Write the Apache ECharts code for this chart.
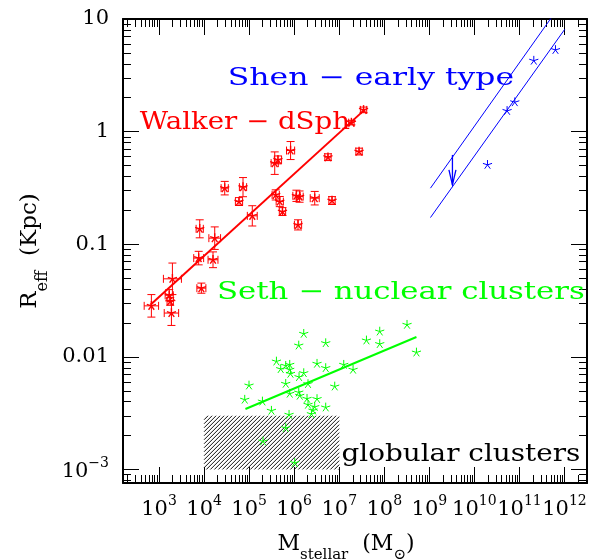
<!DOCTYPE html>
<html>
<head>
<meta charset="utf-8">
<script src="https://cdn.jsdelivr.net/npm/echarts@6/dist/echarts.min.js"></script>
<style>
  html, body { margin: 0; padding: 0; background: #fff; }
  #chart { width: 604px; height: 559px; }
</style>
</head>
<body>
<div id="chart"></div>
<script>
// All quantities are stored as log10: stellar mass in Msun, effective radius in kpc.

// Walker: dwarf spheroidals, with errors in dex
const walkerLogM = [2.83, 3.226, 3.297, 3.275, 3.248, 3.94, 3.88, 4.198, 4.236, 3.903,
  5.07, 4.458, 4.775, 4.864, 5.59, 5.68, 5.74, 6.085, 6.05, 6.12,
  6.456, 6.84, 5.568, 5.64, 5.92, 6.75, 7.44, 7.27, 7.54];
const walkerLogR = [-1.547, -1.453, -1.307, -1.611, -1.507, -1.39, -1.123, -1.138, -0.946, -0.863,
  -0.748, -0.502, -0.621, -0.493, -0.562, -0.621, -0.71, -0.828, -0.57, -0.577,
  -0.591, -0.612, -0.28, -0.251, -0.168, -0.227, -0.177, 0.08, 0.193];
const walkerErrM = [0.16, 0.09, 0.2, 0.16, 0.07, 0.1, 0.11, 0.11, 0.13, 0.08,
  0.11, 0.08, 0.08, 0.08, 0.08, 0.08, 0.07, 0.08, 0.08, 0.08,
  0.1, 0.07, 0.08, 0.08, 0.09, 0.07, 0.07, 0.06, 0.07];
const walkerErrR = [0.1, 0.05, 0.14, 0.11, 0.035, 0.045, 0.06, 0.07, 0.1, 0.08,
  0.09, 0.06, 0.035, 0.085, 0.045, 0.045, 0.035, 0.045, 0.05, 0.05,
  0.06, 0.035, 0.1, 0.035, 0.08, 0.03, 0.03, 0.02, 0.025];
const walkerFitLogM = [2.81, 7.56];
const walkerFitLogR = [-1.537, 0.193];

// Seth: nuclear star clusters
const sethLogM = [6.212, 6.101, 6.7, 7.604, 7.899, 7.899, 8.505, 8.714, 5.606, 5.701,
  5.812, 5.901, 5.901, 5.917, 6.212, 6.108, 6.507, 6.7, 7.1, 7.307,
  5.812, 6.307, 6.9, 4.997, 4.902, 5.295, 5.901, 6.101, 6.123, 6.285,
  6.507, 6.307, 6.456, 6.7, 6.418, 6.383, 5.495, 5.886, 5.812, 5.308, 6.012];
const sethLogR = [-1.795, -1.899, -1.878, -1.854, -1.775, -1.886, -1.715, -1.961, -2.041, -2.108,
  -2.079, -2.07, -2.114, -2.15, -2.144, -2.179, -2.061, -2.099, -2.07, -2.114,
  -2.239, -2.241, -2.263, -2.254, -2.38, -2.396, -2.327, -2.316, -2.345, -2.372,
  -2.374, -2.425, -2.445, -2.449, -2.476, -2.508, -2.478, -2.514, -2.632, -2.751, -2.942];
const sethFitLogM = [4.918, 8.714];
const sethFitLogR = [-2.463, -1.824];

// Shen: early-type galaxies
const shenLogM = [11.319, 11.8, 10.897, 10.726, 10.291];
const shenLogR = [0.63, 0.725, 0.261, 0.184, -0.295];
const shenUpperLogM = [9.025, 12.0];
const shenUpperLogR = [-0.502, 1.176];
const shenLowerLogM = [9.025, 12.007];
const shenLowerLogR = [-0.763, 0.909];
const shenArrowLogM = [9.513];
const shenArrowLogR = [-0.207, -0.473];

// Globular cluster region
const gcBoxLogM = [4, 7];
const gcBoxLogR = [-3, Math.log10(0.003)];

// Annotations (left end, baseline)
const noteText = ['Walker \u2212 dSph', 'Shen \u2212 early type', 'Seth \u2212 nuclear clusters', 'globular clusters'];
const noteColor = ['#ff0000', '#0000ff', '#00ff00', '#000000'];
const noteLogM = [2.571, 4.525, 4.287, 7.049];
const noteLogR = [0.0, 0.397, -1.508, -2.942];
// horizontal stretch of each annotation's lettering
const noteStretch = [1.15, 1.31, 1.28, 1.16];

// Axes
const X_MIN = 2.2, X_MAX = 12.5;
const Y_MIN = -3.12, Y_MAX = 1;
const xMajor = [3, 4, 5, 6, 7, 8, 9, 10, 11, 12];
const yMajor = [1, 0, -1, -2, -3];
const yMajorText = ['10', '1', '0.1', '0.01', '{b|10}{s|\u22123}'];

function minorTicks(lo, hi) {
  const out = [];
  for (let d = Math.floor(lo); d <= Math.ceil(hi); d++) {
    for (let k = 2; k <= 9; k++) {
      const v = d + Math.log10(k);
      if (v > lo && v < hi) out.push(v);
    }
  }
  return out;
}
const xMinor = minorTicks(X_MIN, X_MAX);
const yMinor = minorTicks(Y_MIN, Y_MAX);

const SERIF = '"DejaVu Serif", serif';
const tickLine = { color: '#000', width: 1 };

function axisSet(dim, position, major, minor, labelCfg) {
  const lo = dim === 'x' ? X_MIN : Y_MIN;
  const hi = dim === 'x' ? X_MAX : Y_MAX;
  const base = {
    type: 'value', position: position, min: lo, max: hi,
    splitLine: { show: false }
  };
  return [
    Object.assign({}, base, {
      axisLine: { show: true, onZero: false, lineStyle: { color: '#000', width: 2 } },
      axisTick: { show: true, inside: true, length: 16, customValues: major, lineStyle: tickLine },
      axisLabel: labelCfg || { show: false }
    }),
    Object.assign({}, base, {
      axisLine: { show: false, onZero: false },
      axisTick: { show: true, inside: true, length: 8, customValues: minor, lineStyle: tickLine },
      axisLabel: { show: false }
    })
  ];
}

const supRich = {
  b: { fontFamily: SERIF, fontSize: 21, color: '#000', verticalAlign: 'bottom', lineHeight: 26 },
  s: { fontFamily: SERIF, fontSize: 14, color: '#000', verticalAlign: 'top', lineHeight: 26 }
};

const xLabel = {
  show: true, customValues: xMajor, margin: 11,
  formatter: v => '{b|10}{s|' + Math.round(v) + '}',
  rich: supRich
};
const yLabel = {
  show: true, customValues: yMajor, margin: 14,
  fontFamily: SERIF, fontSize: 21, color: '#000',
  formatter: v => yMajorText[yMajor.indexOf(Math.round(v))],
  rich: supRich
};

const xAxes = axisSet('x', 'bottom', xMajor, xMinor, xLabel).concat(axisSet('x', 'top', xMajor, xMinor));
const yAxes = axisSet('y', 'left', yMajor, yMinor, yLabel).concat(axisSet('y', 'right', yMajor, yMinor));

const titleRich = {
  m: { fontFamily: SERIF, fontSize: 22, color: '#000', verticalAlign: 'top', lineHeight: 30 },
  sub: { fontFamily: SERIF, fontSize: 15, color: '#000', verticalAlign: 'bottom', lineHeight: 30 }
};
xAxes[0].name = '{m|M}{sub|stellar}{m|  (M}{sub|\u2299}{m|)}';
xAxes[0].nameLocation = 'middle';
xAxes[0].nameGap = 50;
xAxes[0].nameTextStyle = { rich: titleRich, padding: [0, 18, 0, 0] };
yAxes[0].name = '{m|R}{sub|eff}{m|  (Kpc)}';
yAxes[0].nameLocation = 'middle';
yAxes[0].nameGap = 64;
yAxes[0].nameTextStyle = {
  rich: {
    m: { fontFamily: SERIF, fontSize: 23, color: '#000', verticalAlign: 'top', lineHeight: 32 },
    sub: { fontFamily: SERIF, fontSize: 16, color: '#000', verticalAlign: 'bottom', lineHeight: 32 }
  }
};

// Shape helpers
function seg(x1, y1, x2, y2, color, w) {
  return { type: 'line', shape: { x1, y1, x2, y2 }, style: { stroke: color, lineWidth: w || 1 } };
}
function star(cx, cy, r, color, w) {
  const out = [];
  for (let i = 0; i < 5; i++) {
    const a = i * 2 * Math.PI / 5;
    out.push(seg(cx, cy, cx + r * Math.sin(a), cy - r * Math.cos(a), color, w || 1));
  }
  return out;
}
function starSeries(xs, ys, color) {
  return {
    type: 'custom', coordinateSystem: 'cartesian2d', silent: true,
    data: xs.map((x, i) => [x, ys[i]]),
    encode: { x: 0, y: 1 },
    renderItem: (params, api) => {
      const c = api.coord([api.value(0), api.value(1)]);
      return { type: 'group', children: star(c[0], c[1], 4.8, color) };
    }
  };
}
function fitLine(xs, ys, color, w) {
  return {
    type: 'line', silent: true, symbol: 'none', clip: true,
    data: xs.map((x, i) => [x, ys[i]]),
    lineStyle: { color: color, width: w }
  };
}

const RED = '#ff0000', GREEN = '#00ff00', BLUE = '#0000ff';

const series = [
  // hatched globular cluster region
  {
    type: 'custom', coordinateSystem: 'cartesian2d', silent: true,
    data: [[gcBoxLogM[0], gcBoxLogR[0], gcBoxLogM[1], gcBoxLogR[1]]],
    encode: { x: [0, 2], y: [1, 3] },
    renderItem: (params, api) => {
      const p0 = api.coord([api.value(0), api.value(3)]);
      const p1 = api.coord([api.value(2), api.value(1)]);
      const x0 = p0[0], y0 = p0[1], x1 = p1[0], y1 = p1[1];
      const kids = [];
      const step = 4;
      for (let c = x0 + y0 + step; c < x1 + y1; c += step) {
        const xa = Math.max(x0, c - y1), xb = Math.min(x1, c - y0);
        if (xb > xa) kids.push(seg(xa, c - xa, xb, c - xb, '#111', 1));
      }
      return { type: 'group', children: kids };
    }
  },
  fitLine(walkerFitLogM, walkerFitLogR, RED, 2),
  fitLine(sethFitLogM, sethFitLogR, GREEN, 2),
  fitLine(shenUpperLogM, shenUpperLogR, BLUE, 1),
  fitLine(shenLowerLogM, shenLowerLogR, BLUE, 1),
  // Walker points with error bars
  {
    type: 'custom', coordinateSystem: 'cartesian2d', silent: true,
    data: walkerLogM.map((m, i) => [m, walkerLogR[i], walkerErrM[i], walkerErrR[i]]),
    encode: { x: 0, y: 1 },
    renderItem: (params, api) => {
      const m = api.value(0), r = api.value(1), em = api.value(2), er = api.value(3);
      const c = api.coord([m, r]);
      const xl = api.coord([m - em, r])[0], xr = api.coord([m + em, r])[0];
      const yt = api.coord([m, r + er])[1], yb = api.coord([m, r - er])[1];
      const cap = 4;
      const kids = [
        seg(xl, c[1], xr, c[1], RED),
        seg(xl, c[1] - cap, xl, c[1] + cap, RED),
        seg(xr, c[1] - cap, xr, c[1] + cap, RED),
        seg(c[0], yt, c[0], yb, RED),
        seg(c[0] - cap, yt, c[0] + cap, yt, RED),
        seg(c[0] - cap, yb, c[0] + cap, yb, RED)
      ].concat(star(c[0], c[1], 4.8, RED, 1.4));
      return { type: 'group', children: kids };
    }
  },
  starSeries(sethLogM, sethLogR, GREEN),
  starSeries(shenLogM, shenLogR, BLUE),
  // upper-limit arrow
  {
    type: 'custom', coordinateSystem: 'cartesian2d', silent: true,
    data: [[shenArrowLogM[0], shenArrowLogR[0], shenArrowLogR[1]]],
    encode: { x: 0, y: [1, 2] },
    renderItem: (params, api) => {
      const t = api.coord([api.value(0), api.value(1)]);
      const b = api.coord([api.value(0), api.value(2)]);
      return {
        type: 'group', children: [
          seg(t[0], t[1], b[0], b[1], BLUE, 1.3),
          { type: 'polyline', shape: { points: [[b[0] - 3.5, b[1] - 15], [b[0], b[1]], [b[0] + 3.5, b[1] - 15]] },
            style: { stroke: BLUE, lineWidth: 1.3, fill: null } }
        ]
      };
    }
  },
  // annotations
  {
    type: 'custom', coordinateSystem: 'cartesian2d', silent: true,
    data: noteText.map((t, i) => [noteLogM[i], noteLogR[i], i]),
    encode: { x: 0, y: 1 },
    renderItem: (params, api) => {
      const c = api.coord([api.value(0), api.value(1)]);
      const i = api.value(2);
      const fs = 24;
      return {
        type: 'text', x: c[0], y: c[1] - 0.35 * fs, scaleX: noteStretch[i],
        style: { text: noteText[i], fill: noteColor[i], font: fs + 'px ' + SERIF, align: 'left', verticalAlign: 'middle' }
      };
    }
  }
];

// tie all data series to the labelled axes
series.forEach(s => { s.xAxisIndex = 0; s.yAxisIndex = 0; });

const chart = echarts.init(document.getElementById('chart'), null, { renderer: 'canvas' });
chart.setOption({
  animation: false,
  backgroundColor: '#fff',
  grid: { left: 123, top: 19, width: 464, height: 464, containLabel: false, outerBoundsMode: 'none' },
  xAxis: xAxes,
  yAxis: yAxes,
  series: series
});
</script>
</body>
</html>
